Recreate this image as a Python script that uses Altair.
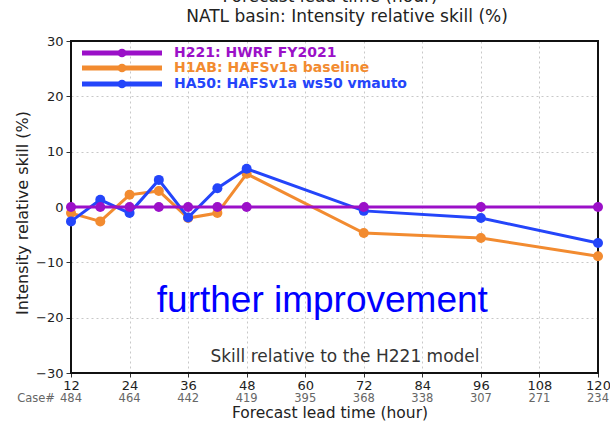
import altair as alt
import pandas as pd

hours = [12, 18, 24, 30, 36, 42, 48, 72, 96, 120]
h221 = [0, 0, 0, 0, 0, 0, 0, 0, 0, 0]
h1ab = [-1.1, -2.6, 2.2, 2.9, -2.0, -1.1, 6.0, -4.7, -5.6, -8.9]
ha50 = [-2.6, 1.3, -1.1, 4.9, -1.9, 3.4, 6.9, -0.7, -2.0, -6.5]

series_names = ["H221: HWRF FY2021", "H1AB: HAFSv1a baseline", "HA50: HAFSv1a ws50 vmauto"]
series_colors = ["#9b10c8", "#f28b30", "#2445fa"]

tick_hours = [12, 24, 36, 48, 60, 72, 84, 96, 108, 120]
case_counts = [484, 464, 442, 419, 395, 368, 338, 307, 271, 234]

W, H = 527, 332
FONT = "DejaVu Sans"

xs = alt.Scale(domain=[12, 120], nice=False, zero=False)
ys = alt.Scale(domain=[-30, 30], nice=False, zero=False)

xaxis = alt.Axis(values=tick_hours, title=None, domain=False, tickColor="#333",
                 tickSize=4, labelFontSize=13, labelColor="#222", labelFont=FONT,
                 labelPadding=2, grid=True, gridDash=[2, 3], gridColor="#c8c8c8",
                 labelFlush=False)
yaxis = alt.Axis(values=[-30, -20, -10, 0, 10, 20, 30], title=None, domain=False,
                 tickColor="#333", tickSize=5, labelFontSize=13, labelColor="#222",
                 labelFont=FONT, labelPadding=3, grid=True, gridDash=[2, 3],
                 gridColor="#c8c8c8")

def series_layer(vals, color):
    df = pd.DataFrame({"hour": hours, "val": vals})
    base = alt.Chart(df).encode(
        x=alt.X("hour:Q", scale=xs, axis=xaxis),
        y=alt.Y("val:Q", scale=ys, axis=yaxis),
    )
    return base.mark_line(color=color, strokeWidth=3) + base.mark_circle(color=color, size=100, opacity=1)

frame = alt.Chart(pd.DataFrame({"f": [1]})).mark_rect(fill=None, stroke="#111", strokeWidth=2).encode(
    x=alt.value(0), x2=alt.value(W), y=alt.value(0), y2=alt.value(H))

layers = [
    frame,
    series_layer(h1ab, series_colors[1]),
    series_layer(ha50, series_colors[2]),
    series_layer(h221, series_colors[0]),
]

# legend (custom, inside top-left)
leg = []
row_y = [12, 27, 43]
for name, color, yy in zip(series_names, series_colors, row_y):
    d = pd.DataFrame({"label": [name]})
    leg.append(alt.Chart(d).mark_rule(color=color, strokeWidth=5).encode(
        x=alt.value(11), x2=alt.value(91), y=alt.value(yy)))
    leg.append(alt.Chart(d).mark_circle(color=color, size=75, opacity=1).encode(
        x=alt.value(51), y=alt.value(yy)))
    leg.append(alt.Chart(d).mark_text(color=color, font=FONT, fontSize=14, fontWeight="bold",
                                      align="left", baseline="middle").encode(
        x=alt.value(103), y=alt.value(yy), text="label:N"))

# case counts row
cases_df = pd.DataFrame({"hour": tick_hours, "cases": case_counts})
cases = alt.Chart(cases_df).mark_text(font=FONT, fontSize=11.5, color="#666", baseline="middle").encode(
    x=alt.X("hour:Q", scale=xs), y=alt.value(H + 26), text="cases:N")
case_lbl = alt.Chart(pd.DataFrame({"t": ["Case#"]})).mark_text(
    font=FONT, fontSize=11.5, color="#666", baseline="middle", align="right").encode(
    x=alt.value(-16), y=alt.value(H + 26), text="t:N")

def txt(s, x, y, size, color="#222", angle=0, weight="normal", font=FONT):
    return alt.Chart(pd.DataFrame({"t": [s]})).mark_text(
        font=font, fontSize=size, color=color, angle=angle, fontWeight=weight,
        baseline="middle", align="center").encode(x=alt.value(x), y=alt.value(y), text="t:N")

texts = [
    txt("Forecast lead time (hour)", 259, H + 40, 15.5),
    txt("Forecast lead time (hour)", 259, -44, 17),
    txt("NATL basin: Intensity relative skill (%)", 276, -24, 17),
    txt("Intensity relative skill (%)", -48, 172, 16, angle=270),
    txt("Skill relative to the H221 model", 274, H - 16, 17, color="#333"),
]

ann = alt.Chart(pd.DataFrame({"hour": [63.5], "val": [-16.9], "t": ["further improvement"]})).mark_text(
    font="Liberation Sans", fontSize=37, color="#0000ff", baseline="middle", align="center").encode(
    x=alt.X("hour:Q", scale=xs), y=alt.Y("val:Q", scale=ys), text="t:N")

chart = alt.layer(*layers, *leg, cases, case_lbl, *texts, ann).properties(
    width=W, height=H,
    autosize=alt.AutoSizeParams(type="none"),
    padding={"left": 71, "top": 41, "right": 12, "bottom": 48},
    background="white",
).configure_view(stroke=None)

chart.save("out.html", embed_options={"renderer": "svg", "actions": False})
